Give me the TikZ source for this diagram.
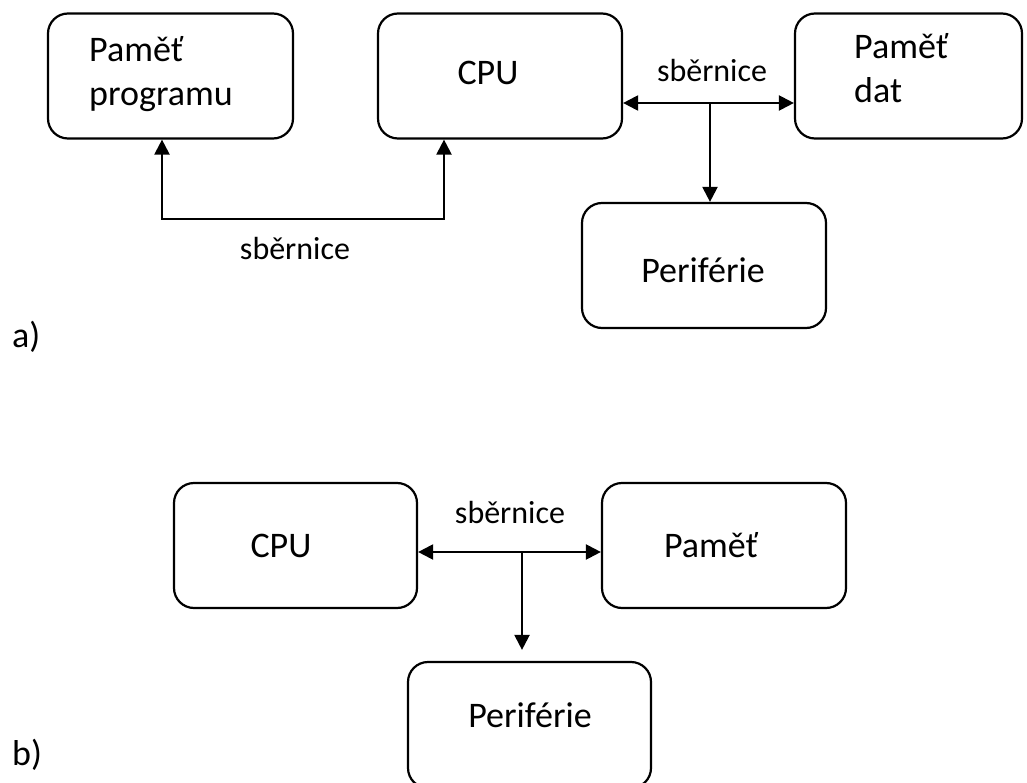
\documentclass[tikz,border=0pt]{standalone}
\usepackage{fontspec}
\setmainfont{Carlito}
\usetikzlibrary{positioning,arrows.meta,calc}

\begin{document}
\begin{tikzpicture}[x=1pt, y=-1pt,
  every node/.style={font=\fontsize{36}{44}\selectfont},
  blok/.style={
    rectangle, rounded corners=20pt,
    draw=black, line width=2.2pt,
    minimum height=125pt, inner sep=0pt
  },
  popis/.style={inner sep=0pt, align=left},
  sbtext/.style={inner sep=0pt, font=\fontsize{32}{38}\selectfont},
  sbern/.style={line width=2.2pt, draw=black},
  sip/.style={sbern, -{Triangle[length=15pt,width=15pt]}},
  dvojsip/.style={sbern, {Triangle[length=15pt,width=15pt]}-{Triangle[length=15pt,width=15pt]}}
]
\useasboundingbox (0,0) rectangle (1027,783);

% --- a) ---
\node[blok, minimum width=245pt] (progA) at (170.5,76) {};
\node[blok, minimum width=244pt] (cpuA) at (500,76) {};
\node[blok, minimum width=227pt] (datA) at (908.5,76) {};
\node[blok, minimum width=244pt] (perA) at (704,265.5) {};

\node[popis, anchor=base west] (progAt) at (89,106) {Paměť\\programu};
\node[popis, anchor=base] (cpuAt) at (488,85) {CPU};
\node[popis, anchor=base west] (datAt) at (854,103) {Paměť\\dat};
\node[popis, anchor=base] (perAt) at (703,283) {Periférie};

% sbernice programu
\coordinate (busPL) at (162,219);
\coordinate (busPR) at (444,219);
\draw[dvojsip] (progA.south -| busPL) |- (busPR) -- (cpuA.south -| busPR);
\node[sbtext, anchor=base] (sbPA) at (295,260) {sběrnice};

% sbernice dat
\coordinate (busD) at (710,103);
\draw[dvojsip] (cpuA.east |- busD) -- (datA.west |- busD);
\draw[sip] (busD) -- (perA.north -| busD);
\node[sbtext, anchor=base] (sbDA) at (712,82) {sběrnice};

\node[popis, anchor=base west] (lblA) at (12,347) {a)};

% --- b) ---
\node[blok, minimum width=243pt] (cpuB) at (295.5,545.5) {};
\node[blok, minimum width=244pt] (pamB) at (724,545.5) {};
\node[blok, minimum width=243pt, minimum height=126pt] (perB) at (529.5,725) {};

\node[popis, anchor=base] (cpuBt) at (281,557) {CPU};
\node[popis, anchor=base] (pamBt) at (711,557) {Paměť};
\node[popis, anchor=base] (perBt) at (530,727) {Periférie};

\coordinate (busB) at (522,552);
\draw[dvojsip] (cpuB.east |- busB) -- (pamB.west |- busB);
\draw[sip, shorten >=11pt] (busB) -- (perB.north -| busB);
\node[sbtext, anchor=base] (sbB) at (510,523) {sběrnice};

\node[popis, anchor=base west] (lblB) at (12,765) {b)};
\end{tikzpicture}
\end{document}
